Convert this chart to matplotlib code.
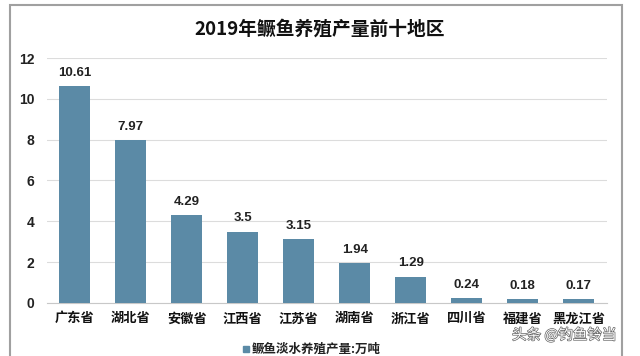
import matplotlib.pyplot as plt
import matplotlib.patheffects as pe
from matplotlib.patches import Rectangle

plt.rcParams['font.family'] = ['Noto Sans CJK SC', 'DejaVu Sans']

regions = ["广东省", "湖北省", "安徽省", "江西省", "江苏省", "湖南省", "浙江省", "四川省", "福建省", "黑龙江省"]
output = [10.61, 7.97, 4.29, 3.5, 3.15, 1.94, 1.29, 0.24, 0.18, 0.17]
labels = ["10.61", "7.97", "4.29", "3.5", "3.15", "1.94", "1.29", "0.24", "0.18", "0.17"]
yticks = [0, 2, 4, 6, 8, 10, 12]

num_font = ['Liberation Sans', 'DejaVu Sans']

fig = plt.figure(figsize=(6.4, 3.56), dpi=100)
fig.patches.append(Rectangle((10 / 640, -0.1), 612 / 640, 1.1 - 5 / 356, transform=fig.transFigure,
                             fill=False, edgecolor='#a0a0a0', linewidth=1.5))

ax = fig.add_axes([0.073, 0.149, 0.875, 0.688])
bar_color = '#5b8aa6'
x = range(len(regions))
ax.bar(x, output, width=0.56, color=bar_color, zorder=3)
for i, (v, s) in enumerate(zip(output, labels)):
    ax.text(i, v + 0.35, s, ha='center', va='bottom', fontsize=9.5, fontweight='bold',
            color='#222222', family=num_font)

ax.set_ylim(0, 12)
ax.set_xlim(-0.5, len(regions) - 0.5)
ax.set_yticks(yticks)
ax.set_yticklabels([str(t) for t in yticks], fontsize=10, fontweight='bold', color='#222222',
                   family=num_font)
ax.set_xticks(list(x))
ax.set_xticklabels(regions, fontsize=9.5, fontweight='bold', color='#111111')
ax.tick_params(axis='y', length=0, pad=9)
ax.tick_params(axis='x', length=0, pad=6)
ax.grid(axis='y', color='#dcdcdc', linewidth=0.8, zorder=0)
for side in ['top', 'right', 'left']:
    ax.spines[side].set_visible(False)
ax.spines['bottom'].set_color('#c8c8c8')

fig.text(0.5, 0.918, "2019年鳜鱼养殖产量前十地区", ha='center', va='center',
         fontsize=13.5, fontweight='bold', color='#111111')

# legend
fig.patches.append(Rectangle((243 / 640, 1 - 352 / 356), 6 / 640, 6 / 356, transform=fig.transFigure,
                             color=bar_color))
fig.text(252 / 640, 1 - 349 / 356, "鳜鱼淡水养殖产量:万吨", ha='left', va='center',
         fontsize=9, fontweight='bold', color='#222222')

# watermark
wm = fig.text(512 / 640, 1 - 335 / 356, "头条 @钓鱼铃当", ha='left', va='center',
              fontsize=10.5, color='#ffffff')
wm.set_path_effects([pe.withStroke(linewidth=1.0, foreground='#666666')])

fig.savefig('out.png', dpi=100, facecolor='white')
